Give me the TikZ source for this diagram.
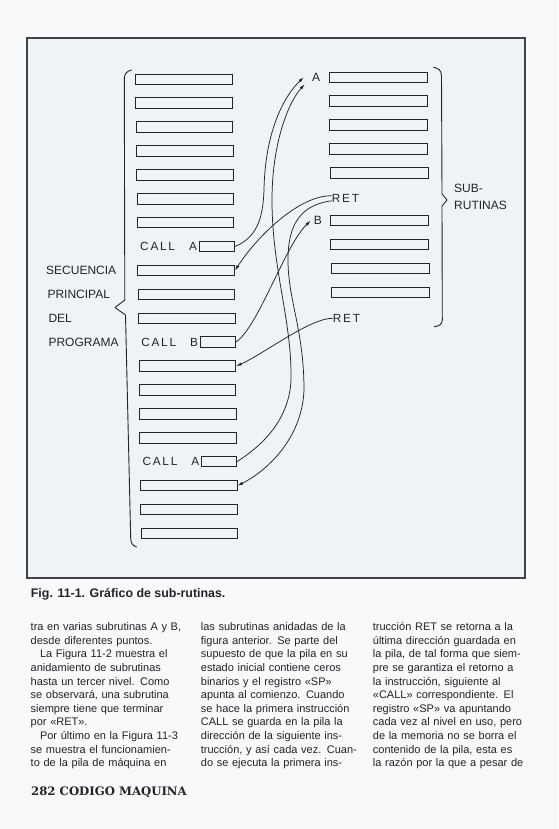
\documentclass[tikz,border=0pt]{standalone}
\usepackage{fontspec}
\usepackage{graphicx}
\setmainfont{Liberation Sans}
\newfontfamily\slab{DejaVu Serif}
\newfontfamily\lsp[LetterSpace=15]{Liberation Sans}
\usetikzlibrary{arrows.meta,calc}
\definecolor{ink}{RGB}{35,35,40}
\definecolor{pagebg}{RGB}{248,249,250}
\definecolor{framebg}{RGB}{237,243,247}
\definecolor{framec}{RGB}{65,65,70}
\newcommand{\jl}[1]{\makebox[\linewidth][s]{#1}}
\newcommand{\lft}[1]{\makebox[\linewidth][l]{#1}}
\begin{document}
\begin{tikzpicture}[x=1pt,y=-1pt,
  lab/.style={inner sep=0pt, font=\fontsize{12}{14}\selectfont, text=ink},
  call/.style={inner sep=0pt, font=\lsp\fontsize{11.8}{13}\selectfont, text=ink},
  lbox/.style={draw=ink, line width=1pt, inner sep=0pt, minimum height=10.5pt, minimum width=96.6pt},
  rbox/.style={lbox, minimum width=98pt},
  sbox/.style={lbox, minimum width=35pt},
  conn/.style={draw=ink, line width=0.75pt},
  arr/.style={conn, -{Latex[length=5.5pt,width=3.2pt]}},
  brace/.style={draw=ink, line width=0.9pt, line join=round},
  body/.style={anchor=north west, inner sep=0pt, text width=152.5pt, text=ink, font=\fontsize{11}{13.6}\selectfont}
]
\useasboundingbox (0,0) rectangle (558,829);
\fill[pagebg] (0,0) rectangle (558,829);
\fill[framebg] (27,38) rectangle (525,578);
\draw[framec, line width=1.3pt] (27,38) rectangle (525,578);

% left column boxes
\foreach \k in {0,1,2,3,4,5,6,8,9,10,12,13,14,15,17,18,19} {
  \node[lbox] (L\k) at ({184+0.28*\k},{79.3+23.9*\k}) {};
}
\node[sbox] (CA1) at ({214.8+0.26*7},{79.3+23.9*7}) {};
\node[sbox] (CB)  at ({214.8+0.26*11},{79.3+23.9*11}) {};
\node[sbox] (CA2) at ({214.8+0.26*16},{79.3+23.9*16}) {};
\node[call, anchor=east] (tCA1) at ($(CA1.west)+(-1.5,0)$) {CALL\hspace{14pt}A};
\node[call, anchor=east] (tCB)  at ($(CB.west)+(-1.5,0)$) {CALL\hspace{14pt}B};
\node[call, anchor=east] (tCA2) at ($(CA2.west)+(-1.5,0)$) {CALL\hspace{14pt}A};

% right column boxes
\foreach \j in {0,1,2,3,4,6,7,8,9} {
  \node[rbox] (R\j) at ({378.3+0.22*\j},{77.3+23.9*\j}) {};
}
\node[lab, anchor=east] (A) at ($(R0.west)+(-8.6,0)$) {A};
\node[lab, anchor=east] (B) at ($(R6.west)+(-8,0)$) {B};
\node[call, anchor=west] (RET1) at (331.7,198.3) {RET};
\node[call, anchor=west] (RET2) at (332.7,318.3) {RET};

% labels
\node[lab, anchor=west] (s1) at (46,270.5) {SECUENCIA};
\node[lab, anchor=west] (s2) at (47.3,294.4) {PRINCIPAL};
\node[lab, anchor=west] (s3) at (48.3,318.3) {DEL};
\node[lab, anchor=west] (s4) at (48.3,342.2) {PROGRAMA};
\node[lab, anchor=west] (sub1) at (454,188.3) {SUB-};
\node[lab, anchor=west] (sub2) at (454,205) {RUTINAS};

% braces
\draw[brace] (131.7,70) .. controls (127,71) and (124.3,73.5) .. (124.3,79) -- (124.8,300) -- (115,307.5) -- (125.5,315) -- (130.7,538) .. controls (130.8,543) and (132.5,546) .. (136.7,547);
\draw[brace] (433.3,67.3) .. controls (438.5,68) and (441.5,70.5) .. (441.5,76) -- (442,194) -- (447,200) -- (442,206) -- (442.3,320) .. controls (442.3,324) and (439,326.5) .. (434,326.7);

% connectors
\draw[arr] (CA1.east) .. controls (256,238) and (263,220) .. (264,190) .. controls (265,130) and (285,95) .. ($(A.west)+(-8,0)$);
\draw[arr] (CA2.east) .. controls (255,450) and (289,425) .. (291,380) .. controls (292,320) and (272,270) .. (272,200) .. controls (272,140) and (290,100) .. ($(A.west)+(-7,7)$);
\draw[arr] ($(RET1.west)+(0,-2.5)$) .. controls (300,195) and (258,235) .. (L8.east);
\draw[arr] ($(RET1.west)+(0,2.5)$) .. controls (300,205) and (288,225) .. (288,260) .. controls (288,300) and (304,330) .. (304,390) .. controls (302,440) and (265,472) .. (L17.east);
\draw[arr] (CB.east) .. controls (258,328) and (285,245) .. ($(B.west)+(-3,0)$);
\draw[arr] (RET2.west) .. controls (310,318) and (262,355) .. (L12.east);

% caption
\node[anchor=base west, inner sep=0pt, text=ink, font=\bfseries\fontsize{12.4}{14}\selectfont] (cap) at (30.7,597) {Fig. 11-1. Gráfico de sub-rutinas.};

% body text
\node[body] (col1) at (30.5,621.5) {\rule{0pt}{9pt}\jl{tra en varias subrutinas A y B,}\\
\lft{desde diferentes puntos.}\\
\jl{\hspace*{9.3pt}La Figura 11-2 muestra el}\\
\jl{anidamiento de subrutinas}\\
\jl{hasta un tercer nivel. Como}\\
\jl{se observará, una subrutina}\\
\jl{siempre tiene que terminar}\\
\lft{por «RET».}\\
\jl{\hspace*{9.3pt}Por último en la Figura 11-3}\\
\jl{se muestra el funcionamien-}\\
\jl{to de la pila de máquina en}};
\node[body] (col2) at (200.7,621.5) {\rule{0pt}{9pt}\jl{las subrutinas anidadas de la}\\
\jl{figura anterior. Se parte del}\\
\jl{supuesto de que la pila en su}\\
\jl{estado inicial contiene ceros}\\
\jl{binarios y el registro «SP»}\\
\jl{apunta al comienzo. Cuando}\\
\jl{se hace la primera instrucción}\\
\jl{CALL se guarda en la pila la}\\
\jl{dirección de la siguiente ins-}\\
\jl{trucción, y así cada vez. Cuan-}\\
\jl{do se ejecuta la primera ins-}};
\node[body] (col3) at (372.7,621.5) {\rule{0pt}{9pt}\jl{trucción RET se retorna a la}\\
\jl{última dirección guardada en}\\
\jl{la pila, de tal forma que siem-}\\
\jl{pre se garantiza el retorno a}\\
\jl{la instrucción, siguiente al}\\
\jl{«CALL» correspondiente. El}\\
\jl{registro «SP» va apuntando}\\
\jl{cada vez al nivel en uso, pero}\\
\jl{de la memoria no se borra el}\\
\jl{contenido de la pila, esta es}\\
\jl{la razón por la que a pesar de}};

% footer
\node[anchor=base west, inner sep=0pt, text=ink, font=\slab\bfseries\fontsize{11.7}{15}\selectfont] (foot) at (31,795) {282 CODIGO MAQUINA};
\end{tikzpicture}
\end{document}
